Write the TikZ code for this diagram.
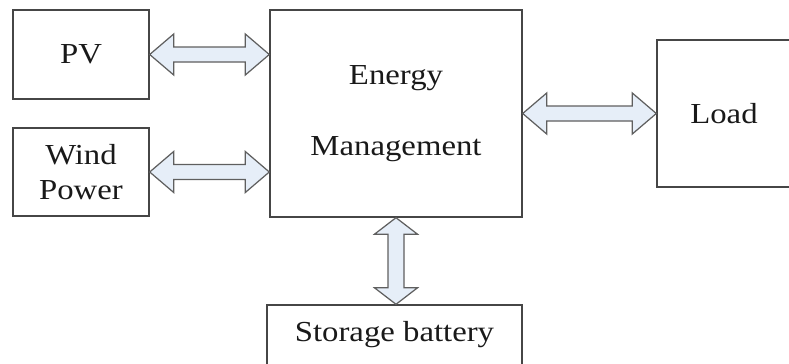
\documentclass[tikz,border=0pt]{standalone}
\usepackage{fontspec}
\setmainfont[FakeStretch=1.13]{Liberation Serif}
\usetikzlibrary{calc}
\definecolor{boxgray}{RGB}{70,70,70}
\definecolor{arrowgray}{RGB}{95,95,95}
\definecolor{arrowfill}{RGB}{230,238,248}
\tikzset{
  block/.style={draw=boxgray,line width=0.8pt,align=center,text=black!90,
    font=\fontsize{16.5}{20}\selectfont},
  fat/.style={draw=arrowgray,fill=arrowfill,line width=0.7pt,line join=miter},
  % wide two-headed arrow, left to right
  hfat/.style={to path={let \p1=(\tikztostart), \p2=(\tikztotarget) in
    (\x1,\y1) -- (\x1+0.48cm,\y1+0.41cm) -- (\x1+0.48cm,\y1+0.15cm)
    -- (\x2-0.48cm,\y1+0.15cm) -- (\x2-0.48cm,\y1+0.41cm) -- (\x2,\y1)
    -- (\x2-0.48cm,\y1-0.41cm) -- (\x2-0.48cm,\y1-0.15cm)
    -- (\x1+0.48cm,\y1-0.15cm) -- (\x1+0.48cm,\y1-0.41cm) -- cycle}},
  % wide two-headed arrow, top to bottom
  vfat/.style={to path={let \p1=(\tikztostart), \p2=(\tikztotarget) in
    (\x1,\y1) -- (\x1+0.43cm,\y1-0.33cm) -- (\x1+0.16cm,\y1-0.33cm)
    -- (\x1+0.16cm,\y2+0.33cm) -- (\x1+0.43cm,\y2+0.33cm) -- (\x1,\y2)
    -- (\x1-0.43cm,\y2+0.33cm) -- (\x1-0.16cm,\y2+0.33cm)
    -- (\x1-0.16cm,\y1-0.33cm) -- (\x1-0.43cm,\y1-0.33cm) -- cycle}}
}
\begin{document}
\begin{tikzpicture}
    \clip (0,0) rectangle (15.78,7.26);
    %\draw[ultra thin,gray!20] (0,0) grid (15.78,7.26);
    \node[block,minimum width=2.72cm,minimum height=1.78cm] (pv) at (1.62,6.17) {PV};
    \node[block,minimum width=2.72cm,minimum height=1.76cm] (wind) at (1.62,3.82) {Wind\\Power};
    \node[block,minimum width=5.04cm,minimum height=4.14cm] (em) at (7.92,4.99) {Energy\\[20pt]Management};
    \node[block,minimum width=2.68cm,minimum height=2.94cm] (load) at (14.48,4.99) {Load};
    \node[block,minimum width=5.10cm,minimum height=1.20cm] (bat) at (7.89,0.56) {Storage battery};
    \path[fat] (pv.east) to[hfat] (em.west |- pv.east);
    \path[fat] (wind.east) to[hfat] (em.west |- wind.east);
    \path[fat] (em.east) to[hfat] (load.west);
    \path[fat] (em.south) to[vfat] (em.south |- bat.north);
\end{tikzpicture}
\end{document}
